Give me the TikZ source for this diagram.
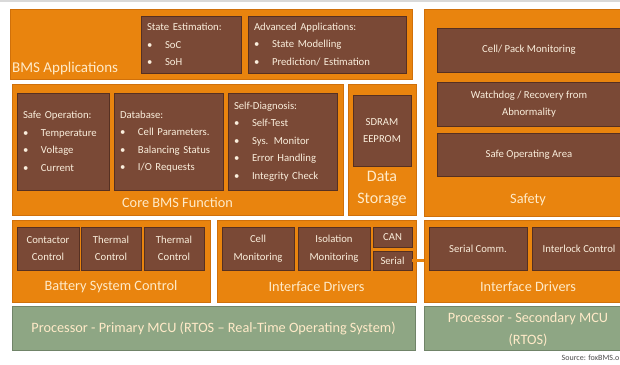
\documentclass[tikz,border=0pt]{standalone}
\usepackage{fontspec}
\setmainfont{Carlito}
\definecolor{bmsorange}{RGB}{233,132,14}
\definecolor{bmsedge}{RGB}{208,112,10}
\definecolor{bmsbrown}{RGB}{122,73,54}
\definecolor{bmsdark}{RGB}{86,48,34}
\definecolor{bmsgreen}{RGB}{142,166,132}
\definecolor{bmsgreenedge}{RGB}{112,132,104}
\definecolor{bmstext}{RGB}{250,238,220}
\definecolor{bmslabel}{RGB}{255,234,200}
\newcommand{\bitem}[1]{\makebox[18pt][l]{\textbullet}#1}

\begin{document}
\begin{tikzpicture}[x=1pt,y=-1pt]
\tikzstyle{panel}=[draw=bmsedge,fill=bmsorange,line width=0.8pt,inner sep=0pt,outer sep=0pt]
\tikzstyle{cell}=[draw=bmsdark,fill=bmsbrown,line width=0.8pt,inner sep=0pt,outer sep=0pt,text=bmstext,font=\fontsize{10.7}{17.5}\selectfont,align=center]
\tikzstyle{proc}=[draw=bmsgreenedge,fill=bmsgreen,line width=0.8pt,inner sep=0pt,outer sep=0pt]
\tikzstyle{title}=[text=bmslabel,font=\fontsize{14.3}{22}\selectfont,inner sep=0pt,align=center]
\useasboundingbox (0,0) rectangle (620,364);
\clip (0,0) rectangle (620,364);
\fill[white] (0,0) rectangle (620,364);
\draw[black!15,line width=1.5pt] (0,0.75) -- (620,0.75);

\node[panel,minimum width=402,minimum height=70] (apps) at (211,44) {};
\node[panel,minimum width=331,minimum height=131] (core) at (177.5,149.5) {};
\node[panel,minimum width=68,minimum height=131] (store) at (382,149.5) {};
\node[panel,minimum width=208,minimum height=207] (safety) at (528,112.5) {};
\node[panel,minimum width=198,minimum height=82] (bsc) at (111,261) {};
\node[panel,minimum width=199,minimum height=82] (ifdrv) at (316.5,261) {};
\node[panel,minimum width=208,minimum height=82] (ifdrv2) at (528,261) {};
\node[proc,minimum width=403,minimum height=44] (mcu) at (213.5,328) {};
\node[proc,minimum width=208,minimum height=44] (mcu2) at (528,328) {};

\node[cell,minimum width=100,minimum height=57,text width=88,align=left] (soe) at (191,44.5)
  {State Estimation:\\\bitem{SoC}\\\bitem{SoH}};
\node[cell,minimum width=158,minimum height=57,text width=146,align=left] (adv) at (327,44.5)
  {Advanced Applications:\\\bitem{State Modelling}\\\bitem{Prediction/ Estimation}};
\node[cell,minimum width=92,minimum height=97,text width=80,align=left] (safeop) at (63,141.5)
  {Safe Operation:\\\bitem{Temperature}\\\bitem{Voltage}\\\bitem{Current}};
\node[cell,minimum width=109,minimum height=97,text width=97,align=left] (db) at (168.5,141.5)
  {Database:\\\bitem{Cell Parameters.}\\\bitem{Balancing Status}\\\bitem{I/O Requests}};
\node[cell,minimum width=109,minimum height=97,text width=97,align=left] (diag) at (282.5,141.5)
  {Self-Diagnosis:\\\bitem{Self-Test}\\\bitem{Sys. Monitor}\\\bitem{Error Handling}\\\bitem{Integrity Check}};
\node[cell,minimum width=58,minimum height=71] (mem) at (382,130.5) {SDRAM\\EEPROM};
\node[cell,minimum width=184,minimum height=44] (cpm) at (529,50) {Cell/ Pack Monitoring};
\node[cell,minimum width=184,minimum height=44] (wdg) at (529,104) {Watchdog / Recovery from\\Abnormality};
\node[cell,minimum width=184,minimum height=43] (soa) at (529,154.5) {Safe Operating Area};
\node[cell,minimum width=62,minimum height=43] (cont) at (48,248.5) {Contactor\\Control};
\node[cell,minimum width=60,minimum height=43] (therm) at (111,248.5) {Thermal\\Control};
\node[cell,minimum width=60,minimum height=43] (therm2) at (174,248.5) {Thermal\\Control};
\node[cell,minimum width=72,minimum height=43] (cellmon) at (258,248.5) {Cell\\Monitoring};
\node[cell,minimum width=72,minimum height=43] (isomon) at (334,248.5) {Isolation\\Monitoring};
\node[cell,minimum width=39,minimum height=20] (can) at (392.5,237) {CAN};
\node[cell,minimum width=39,minimum height=19] (serial) at (392.5,260.5) {Serial};
\node[cell,minimum width=98,minimum height=43] (scomm) at (478,248.5) {Serial Comm.};
\node[cell,minimum width=94,minimum height=43] (ilock) at (579,248.5) {Interlock Control};

\node[title,font=\fontsize{15}{18}\selectfont,anchor=base west] (appsl) at (12,72) {BMS Applications};
\node[title] (corel) at (177.5,203) {Core BMS Function};
\node[title,font=\fontsize{16}{22}\selectfont] (storel) at (382,189) {Data\\Storage};
\node[title] (safetyl) at (528,200) {Safety};
\node[title] (bscl) at (111,287) {Battery System Control};
\node[title] (ifdrvl) at (316.5,287) {Interface Drivers};
\node[title] (ifdrv2l) at (528,287) {Interface Drivers};
\node[title] (mcul) at (213.5,328) {Processor - Primary MCU (RTOS -- Real-Time Operating System)};
\node[title] (mcu2l) at (528,330) {Processor - Secondary MCU\\(RTOS)};
\node[anchor=base east,inner sep=0pt,text=black!70,font=\fontsize{8}{9}\selectfont] (src) at (619.5,360) {Source: foxBMS.o};

\draw[bmsorange,line width=3pt] (serial.east) -- (serial.east -| ifdrv2.west);
\end{tikzpicture}
\end{document}
